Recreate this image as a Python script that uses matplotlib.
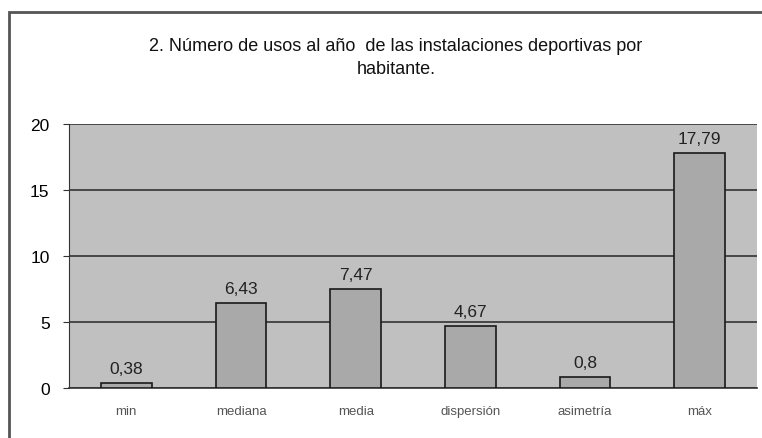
import matplotlib.pyplot as plt
from matplotlib.patches import Rectangle

categorias = ['min', 'mediana', 'media', 'dispersión', 'asimetría', 'máx']
valores = [0.38, 6.43, 7.47, 4.67, 0.8, 17.79]
etiquetas = ['0,38', '6,43', '7,47', '4,67', '0,8', '17,79']

plt.rcParams['font.family'] = ['Liberation Sans', 'DejaVu Sans']

fig = plt.figure(figsize=(7.62, 4.39), dpi=100)
fig.patch.set_facecolor('white')

# marco exterior del grafico
fig.patches.append(Rectangle((9 / 762, -0.05), 1.0, 1 - 13 / 439 + 0.05,
                             transform=fig.transFigure, fill=False,
                             edgecolor='#555555', linewidth=2.0))

ax = fig.add_axes([69 / 762, 1 - 389 / 439, (757 - 69) / 762, (389 - 125) / 439])
ax.set_facecolor('#c0c0c0')

x = range(len(categorias))
ax.bar(x, valores, width=0.44, color='#a9a9a9', edgecolor='#1a1a1a', linewidth=1.2, zorder=3)
for xi, v, t in zip(x, valores, etiquetas):
    ax.text(xi, v + 0.55, t, ha='center', va='bottom', fontsize=12.5, color='#222222', zorder=4)

ax.set_xlim(-0.5, len(categorias) - 0.5)
ax.set_ylim(0, 20)
ax.set_yticks([0, 5, 10, 15, 20])
ax.yaxis.grid(True, color='#333333', linewidth=1.2, zorder=1)
ax.set_axisbelow(True)
ax.set_xticks(list(x))
ax.set_xticklabels(categorias, fontsize=9.5, color='#555555')
ax.tick_params(axis='y', labelsize=12.5, length=4, color='#333333', pad=10)
ax.tick_params(axis='x', length=0, pad=12)
for s in ['top', 'right']:
    ax.spines[s].set_visible(False)
ax.spines['left'].set_color('#333333')
ax.spines['bottom'].set_color('#333333')
ax.spines['bottom'].set_linewidth(1.2)

fig.text(396 / 762, 1 - 58 / 439,
         '2. Número de usos al año  de las instalaciones deportivas por\nhabitante.',
         ha='center', va='center', fontsize=13, color='#111111', linespacing=1.45)

fig.savefig('out.png', dpi=100)
